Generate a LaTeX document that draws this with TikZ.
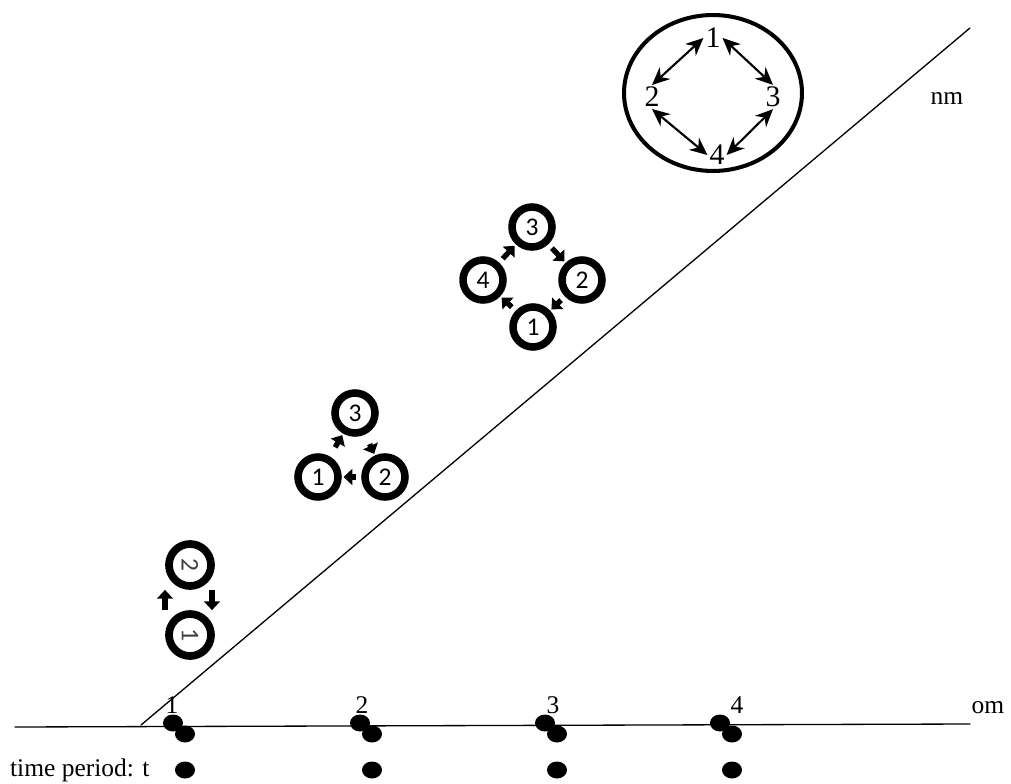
\documentclass[tikz,border=0pt]{standalone}
\usepackage{graphicx}
\usepackage{fontspec}
\setmainfont{Liberation Serif}
\newfontfamily\ringfont{Carlito}
\usetikzlibrary{arrows.meta,shapes.geometric}

\begin{document}
\begin{tikzpicture}[
  x=0.02cm, y=-0.02cm, line cap=round, line join=round,
  axis/.style={line width=0.75pt},
  lbl/.style={inner sep=1pt, font=\fontsize{14.5}{16}\selectfont},
  biglbl/.style={inner sep=1pt, font=\fontsize{17}{19}\selectfont},
  ring/.style={draw, circle, line width=4.3pt, minimum size=0.8cm, inner sep=0pt,
               font=\ringfont\fontsize{14.5}{16}\selectfont},
  ringarrow/.style={line width=3pt, line cap=butt,
                    -{Triangle[length=5pt,width=9pt]},
                    shorten <=3pt, shorten >=1pt},
  biarrow/.style={line width=1.2pt,
                  {Stealth[length=10pt,width=9pt]}-{Stealth[length=10pt,width=9pt]}},
  dot/.style={fill=black, ellipse, minimum width=0.4cm, minimum height=0.34cm,
              inner sep=0pt}
]
  \useasboundingbox (0,0) rectangle (1011,784);

  % ── Axes ──────────────────────────────────────────────────────────────────
  \coordinate (hstart) at (15,727);
  \coordinate (hend)   at (970,724);
  \coordinate (dstart) at (141,725);
  \coordinate (dend)   at (970,28);
  \draw[axis] (hstart) -- (hend);
  \draw[axis] (dstart) -- (dend);

  \node[lbl] (om) at (988,708) {om};
  \node[lbl] (nm) at (947,98)  {nm};
  \node[lbl, anchor=west] (tp) at (8,770) {time period: t};

  % Time periods
  \foreach \xi/\n/\lx in {173/1/172, 360/2/362, 545/3/553, 720/4/737} {
    \node[dot] (d\n) at (\xi,723) {};
    \node[dot] (e\n) at (\xi+12,734) {};
    \node[dot] (f\n) at (\xi+12,770) {};
    \node[lbl] (t\n) at (\lx,705) {\n};
  }

  % ── Two members ───────────────────────────────────────────────────────────
  \node[ring, line width=4.4pt, minimum size=0.84cm, text=black!75] (p2)
    at (190,565) {\rotatebox{-90}{2}};
  \node[ring, line width=4.4pt, minimum size=0.84cm, text=black!75] (p1)
    at (190,635) {\rotatebox{-90}{1}};
  \draw[ringarrow, shorten <=0pt, shorten >=0pt]
    ([xshift=-0.5cm]p1.north) -- ([xshift=-0.5cm]p2.south);
  \draw[ringarrow, shorten <=0pt, shorten >=0pt]
    ([xshift=0.44cm]p2.south) -- ([xshift=0.44cm]p1.north);

  % ── Three members ─────────────────────────────────────────────────────────
  \node[ring] (q3) at (355,413) {3};
  \node[ring] (q1) at (318,477) {1};
  \node[ring] (q2) at (385,477) {2};
  \draw[ringarrow, shorten <=6pt] (q1) -- (q3);
  \draw[ringarrow, shorten <=6pt] (q3) -- (q2);
  \draw[ringarrow] (q2) -- (q1);

  % ── Four members ──────────────────────────────────────────────────────────
  \node[ring] (r3) at (532,227) {3};
  \node[ring] (r4) at (483,280) {4};
  \node[ring] (r2) at (582,280) {2};
  \node[ring] (r1) at (533,327) {1};
  \draw[ringarrow] (r4) -- (r3);
  \draw[ringarrow] (r3) -- (r2);
  \draw[ringarrow] (r2) -- (r1);
  \draw[ringarrow] (r1) -- (r4);

  % ── n members ─────────────────────────────────────────────────────────────
  \node[draw, ellipse, line width=2.3pt, minimum width=3.56cm,
        minimum height=3.12cm] (cyc) at (713,93) {};
  \node[biglbl] (b1) at (713,38)  {1};
  \node[biglbl] (b2) at (652,97)  {2};
  \node[biglbl] (b3) at (773,97)  {3};
  \node[biglbl] (b4) at (717,155) {4};
  \draw[biarrow] (b1.west)  -- (b2.north);
  \draw[biarrow] (b1.east)  -- (b3.north);
  \draw[biarrow] (b2.south) -- (b4.west);
  \draw[biarrow] (b3.south) -- (b4.east);

\end{tikzpicture}
\end{document}
